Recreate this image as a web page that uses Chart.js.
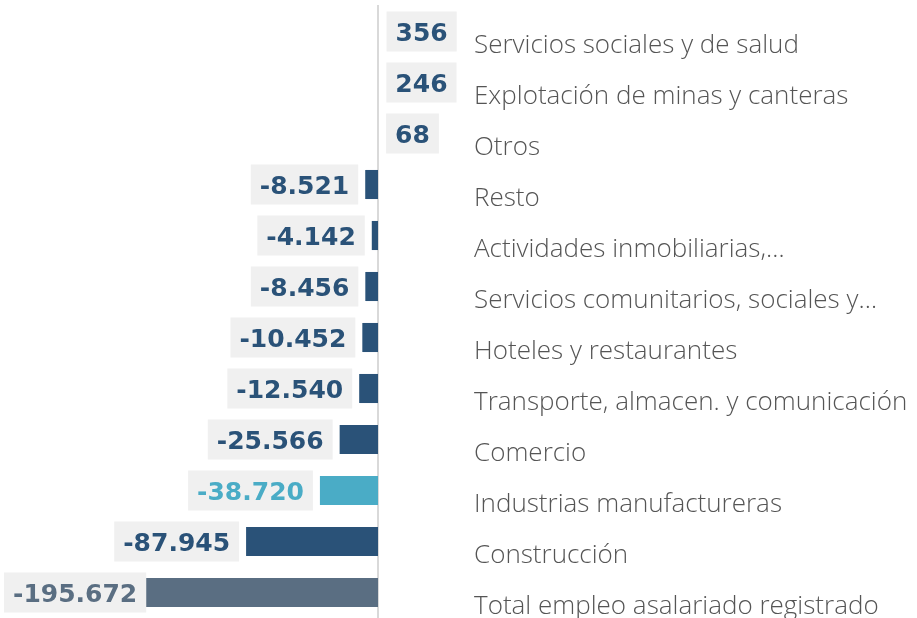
<!DOCTYPE html>
<html>
<head>
<meta charset="utf-8">
<script src="https://cdn.jsdelivr.net/npm/chart.js@4/dist/chart.umd.min.js"></script>
<style>
html,body{margin:0;padding:0;background:#fff;}
#wrap{width:917px;height:618px;position:relative;}
</style>
</head>
<body>
<div id="wrap"><canvas id="c"></canvas></div>
<script>
const categories = [
  "Servicios sociales y de salud",
  "Explotación de minas y canteras",
  "Otros",
  "Resto",
  "Actividades inmobiliarias,…",
  "Servicios comunitarios, sociales y…",
  "Hoteles y restaurantes",
  "Transporte, almacen. y comunicación",
  "Comercio",
  "Industrias manufactureras",
  "Construcción",
  "Total empleo asalariado registrado"
];
const values = [356, 246, 68, -8521, -4142, -8456, -10452, -12540, -25566, -38720, -87945, -195672];
const DARK = "#2a5278", LIGHT = "#4aacc6", TOTAL = "#5a6e82";
const barColors = [DARK, DARK, DARK, DARK, DARK, DARK, DARK, DARK, DARK, LIGHT, DARK, TOTAL];

function fmt(v){
  const s = Math.abs(v).toString().replace(/\B(?=(\d{3})+(?!\d))/g, ".");
  return (v < 0 ? "-" : "") + s;
}

const valueLabels = {
  id: "valueLabels",
  afterDatasetsDraw(chart){
    const ctx = chart.ctx;
    const meta = chart.getDatasetMeta(0);
    const size = 25;
    ctx.save();
    ctx.font = "bold " + size + "px 'DejaVu Sans'";
    meta.data.forEach((el, i) => {
      const v = values[i];
      const txt = fmt(v);
      const tw = ctx.measureText(txt).width;
      const bw = tw + 18, bh = 40;
      let left;
      if (v < 0) { left = el.x - 7 - bw; if (left < 4) left = 4; }
      else { left = el.x + 8; }
      const top = el.y - bh / 2;
      ctx.fillStyle = "#f0f0f0";
      ctx.fillRect(left, top, bw, bh);
      ctx.fillStyle = barColors[i];
      ctx.textAlign = "left";
      ctx.textBaseline = "alphabetic";
      ctx.fillText(txt, left + 9, el.y + size * 0.36);
    });
    ctx.restore();
  }
};

new Chart(document.getElementById("c"), {
  type: "bar",
  data: {
    labels: categories,
    datasets: [{
      data: values,
      backgroundColor: barColors,
      borderWidth: 0,
      barPercentage: 0.57,
      categoryPercentage: 1
    }]
  },
  options: {
    indexAxis: "y",
    responsive: true,
    maintainAspectRatio: false,
    animation: false,
    layout: { padding: { top: 6, left: 0, right: 0, bottom: 0 } },
    plugins: { legend: { display: false }, tooltip: { enabled: false } },
    scales: {
      x: { display: false, min: -252000, max: 0 },
      y: {
        position: "right",
        grid: { display: false },
        border: { display: true, color: "#d9d9d9", width: 2 },
        afterFit(scale){
          scale.width = 539;
          scale.paddingTop = 0;
          scale.paddingBottom = 0;
        },
        ticks: {
          crossAlign: "near",
          padding: 88,
          labelOffset: 14,
          color: "#555",
          font: { family: "'Open Sans', Lato, sans-serif", size: 26, weight: 300 }
        }
      }
    }
  },
  plugins: [valueLabels]
});
</script>
</body>
</html>
